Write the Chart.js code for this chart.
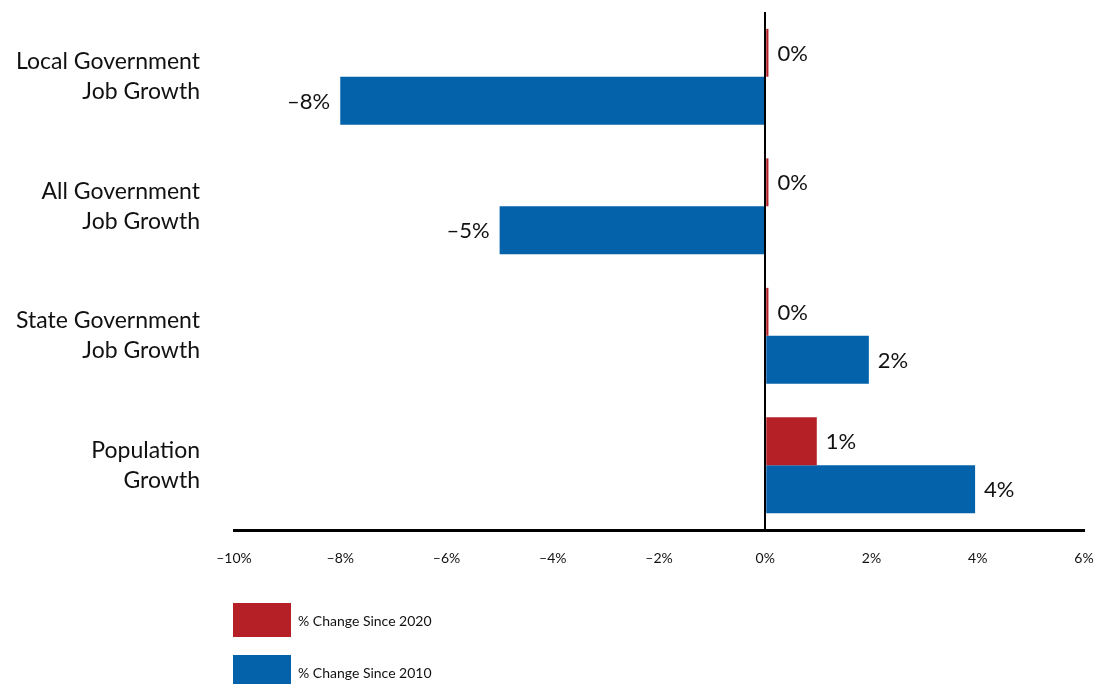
<!DOCTYPE html>
<html>
<head>
<meta charset="utf-8">
<title>Government Job Growth vs Population Growth</title>
<script src="https://cdn.jsdelivr.net/npm/chart.js@4"></script>
<style>
  body { margin: 0; background: #fff; font-family: Lato, "Open Sans", sans-serif; }
  #wrap { position: relative; width: 1097px; height: 684px; overflow: hidden; }
  #legend { position: absolute; left: 233px; top: 603px; }
  .legend-item { display: flex; align-items: center; height: 34px; margin-bottom: 18px; }
  .legend-box { width: 58px; height: 34px; margin-right: 7px; }
  .legend-text { font-size: 14px; color: #111; }
</style>
</head>
<body>
<div id="wrap">
  <canvas id="growthChart" width="1097" height="684"></canvas>
  <div id="legend"></div>
</div>
<script>
// Categories, top to bottom
const categories = [
    ['Local Government', 'Job Growth'],
    ['All Government', 'Job Growth'],
    ['State Government', 'Job Growth'],
    ['Population', 'Growth']
];

// Percent change values
const since2020 = [0.06, 0.06, 0.06, 0.97];
const since2010 = [-8.0, -5.0, 1.95, 3.95];

// Axis range and tick step (percent)
const axisMin = -10;
const axisMax = 6;
const axisStep = 2;

const seriesLabels = ['% Change Since 2020', '% Change Since 2010'];
const seriesColors = ['#B42025', '#0462AB'];

const FONT = 'Lato, "Open Sans", sans-serif';

// En dash for negatives, no decimals
function pct(v) {
    const r = Math.round(v);
    return (r < 0 ? '\u2013' + Math.abs(r) : String(r)) + '%';
}

// Draw the value next to the end of each bar
const barValueLabels = {
    id: 'barValueLabels',
    afterDatasetsDraw(chart) {
        const ctx = chart.ctx;
        ctx.save();
        ctx.font = '22px ' + FONT;
        ctx.fillStyle = '#111';
        ctx.textBaseline = 'middle';
        chart.data.datasets.forEach((ds, i) => {
            const meta = chart.getDatasetMeta(i);
            meta.data.forEach((bar, j) => {
                const v = ds.data[j];
                if (v >= 0) {
                    ctx.textAlign = 'left';
                    ctx.fillText(pct(v), bar.x + 9, bar.y + 1);
                } else {
                    ctx.textAlign = 'right';
                    ctx.fillText(pct(v), bar.x - 10, bar.y + 1);
                }
            });
        });
        ctx.restore();
    }
};

const chart = new Chart(document.getElementById('growthChart'), {
    type: 'bar',
    data: {
        labels: categories,
        datasets: [
            { label: seriesLabels[0], data: since2020, backgroundColor: seriesColors[0] },
            { label: seriesLabels[1], data: since2010, backgroundColor: seriesColors[1] }
        ]
    },
    options: {
        indexAxis: 'y',
        responsive: false,
        animation: false,
        categoryPercentage: 0.74,
        barPercentage: 1.0,
        layout: { padding: { top: 12, right: 13, left: 0, bottom: 0 } },
        plugins: {
            legend: { display: false },
            tooltip: { enabled: false }
        },
        scales: {
            x: {
                min: axisMin,
                max: axisMax,
                afterFit: scale => {
                    scale.height = 154;
                    scale.paddingLeft = 0;
                    scale.paddingRight = 0;
                },
                ticks: {
                    stepSize: axisStep,
                    padding: 20,
                    color: '#111',
                    font: { family: FONT, size: 14 },
                    callback: v => pct(v),
                    maxRotation: 0
                },
                grid: {
                    z: 1,
                    drawTicks: false,
                    lineWidth: 2,
                    color: c => (c.tick && c.tick.value === 0 ? '#000' : 'rgba(0,0,0,0)')
                },
                border: { display: true, color: '#000', width: 3, z: 2 }
            },
            y: {
                afterFit: scale => {
                    scale.width = 234;
                    scale.paddingTop = 0;
                    scale.paddingBottom = 0;
                },
                ticks: {
                    padding: 34,
                    color: '#111',
                    font: { family: FONT, size: 23, lineHeight: 1.3 }
                },
                grid: { display: false, drawTicks: false },
                border: { display: false }
            }
        }
    },
    plugins: [barValueLabels]
});

// Legend built from the datasets
const legend = document.getElementById('legend');
chart.data.datasets.forEach(ds => {
    const item = document.createElement('div');
    item.className = 'legend-item';
    const box = document.createElement('div');
    box.className = 'legend-box';
    box.style.background = ds.backgroundColor;
    const text = document.createElement('span');
    text.className = 'legend-text';
    text.textContent = ds.label;
    item.appendChild(box);
    item.appendChild(text);
    legend.appendChild(item);
});
</script>
</body>
</html>
